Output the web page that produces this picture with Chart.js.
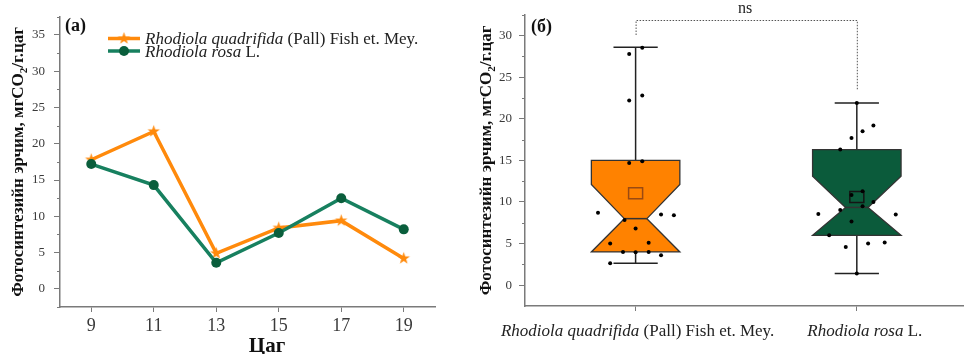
<!DOCTYPE html>
<html><head><meta charset="utf-8">
<script src="https://cdn.jsdelivr.net/npm/chart.js@4/dist/chart.umd.min.js"></script>
<style>
html,body{margin:0;padding:0;background:#fff;width:967px;height:354px;overflow:hidden;}
#wa{position:absolute;left:0;top:0;width:480px;height:354px;}
#wb{position:absolute;left:460px;top:0;width:507px;height:354px;}
canvas{display:block;}
</style></head><body>
<div id="wa"><canvas id="ca" width="480" height="354"></canvas></div>
<div id="wb"><canvas id="cb" width="507" height="354"></canvas></div>
<script>
// ---------- DATA ----------
// Panel (a): hourly photosynthesis rate
const hours = [9, 11, 13, 15, 17, 19];
const quadrifida = [17.8, 21.7, 4.9, 8.4, 9.4, 4.2];
const rosa = [17.2, 14.3, 3.6, 7.7, 12.5, 8.2];
const yTicksA = [0, 5, 10, 15, 20, 25, 30, 35];
const yMinorA = [-2.5, 2.5, 7.5, 12.5, 17.5, 22.5, 27.5, 32.5, 37.5];

// Panel (б): notched box plots
const boxCategories = [1, 2];
const boxLabels = [
  [{t: 'Rhodiola quadrifida', i: true}, {t: ' (Pall) Fish et. Mey.', i: false}],
  [{t: 'Rhodiola rosa', i: true}, {t: ' L.', i: false}]
];
const boxQ1 = [4.0, 6.0];
const boxMedian = [8.0, 9.35];
const boxQ3 = [15.0, 16.3];
const boxNotchHigh = [12.1, 13.1];
const boxWhiskerLow = [2.65, 1.4];
const boxWhiskerHigh = [28.6, 21.9];
const boxMean = [11.05, 10.6];
const yTicksB = [0, 5, 10, 15, 20, 25, 30];
const yMinorB = [2.5, 7.5, 12.5, 17.5, 22.5, 27.5, 32.5];

// raw replicate values with jittered category positions
const quadrifidaRawX = [1.03, 0.971, 1.03, 0.971, 0.971, 1.03, 0.83, 1.115, 1.173, 0.95, 1.0, 0.885, 1.059, 0.943, 1.0, 1.059, 1.115, 0.885];
const quadrifidaRawY = [28.55, 27.8, 22.8, 22.2, 14.7, 14.9, 8.7, 8.5, 8.4, 7.85, 6.8, 5.0, 5.1, 4.0, 3.95, 4.0, 3.6, 2.65];
const rosaRawX = [2.0, 2.075, 2.026, 1.976, 1.925, 2.026, 1.976, 2.075, 1.925, 2.026, 1.826, 2.176, 1.976, 1.875, 1.95, 2.051, 2.126, 2.0];
const rosaRawY = [21.9, 19.2, 18.5, 17.7, 16.3, 11.3, 10.85, 10.0, 9.05, 9.5, 8.57, 8.5, 7.66, 6.0, 4.6, 5.0, 5.13, 1.4];

// ---------- STYLE ----------
const SERIF = '"Liberation Serif", "Times New Roman", serif';
const ORANGE = '#FF8A0C';
const BOX_ORANGE = '#FF8200';
const GREEN_LINE = '#17805F';
const GREEN_DARK = '#0A5E3C';
const BOX_GREEN = '#0B5B3B';
const AXIS = '#7a7a7a';
const TXT = '#3a3a3a';

function makeStar(color, outer, inner) {
  const s = Math.ceil(outer * 2 + 2);
  const c = document.createElement('canvas');
  c.width = s; c.height = s;
  const g = c.getContext('2d');
  g.translate(s / 2, s / 2);
  g.beginPath();
  for (let k = 0; k < 10; k++) {
    const r = k % 2 ? inner : outer;
    const a = -Math.PI / 2 + k * Math.PI / 5;
    g.lineTo(r * Math.cos(a), r * Math.sin(a));
  }
  g.closePath();
  g.fillStyle = color; g.fill();
  return c;
}
const starImg = makeStar(ORANGE, 6.5, 2.6);

function drawRich(ctx, parts, x, y, size, align) {
  let total = 0;
  const fonts = parts.map(p => (p.i ? 'italic ' : '') + size + 'px ' + SERIF);
  parts.forEach((p, k) => { ctx.font = fonts[k]; total += ctx.measureText(p.t).width; });
  let cx = align === 'center' ? x - total / 2 : x;
  ctx.textAlign = 'left';
  ctx.textBaseline = 'alphabetic';
  parts.forEach((p, k) => { ctx.font = fonts[k]; ctx.fillText(p.t, cx, y); cx += ctx.measureText(p.t).width; });
}

function drawYTitle(ctx, cx, cy, size) {
  const a = 'Фотосинтезийн эрчим, мгCO', b = '2', c = '/г.цаг';
  const fBig = 'bold ' + size + 'px ' + SERIF, fSmall = 'bold ' + Math.round(size * 0.65) + 'px ' + SERIF;
  ctx.save();
  ctx.translate(cx, cy);
  ctx.rotate(-Math.PI / 2);
  ctx.fillStyle = '#111';
  ctx.textAlign = 'left';
  ctx.textBaseline = 'alphabetic';
  ctx.font = fBig; const w1 = ctx.measureText(a).width, w3 = ctx.measureText(c).width;
  ctx.font = fSmall; const w2 = ctx.measureText(b).width;
  let u = -(w1 + w2 + w3) / 2;
  const base = size * 0.35;
  ctx.font = fBig; ctx.fillText(a, u, base); u += w1;
  ctx.font = fSmall; ctx.fillText(b, u, base + size * 0.22); u += w2;
  ctx.font = fBig; ctx.fillText(c, u, base);
  ctx.restore();
}

function minorTicks(ctx, chart, values, len) {
  const ys = chart.scales.y, left = chart.chartArea.left;
  ctx.save();
  ctx.strokeStyle = AXIS; ctx.lineWidth = 1;
  values.forEach(v => {
    const py = Math.round(ys.getPixelForValue(v)) + 0.5;
    ctx.beginPath(); ctx.moveTo(left - len, py); ctx.lineTo(left, py); ctx.stroke();
  });
  ctx.restore();
}

// ---------- PANEL (a) ----------
const panelA = {
  id: 'panelA',
  afterDraw(chart) {
    const ctx = chart.ctx;
    minorTicks(ctx, chart, yMinorA, 3);
    ctx.save();
    ctx.fillStyle = '#111';
    ctx.font = 'bold 18px ' + SERIF;
    ctx.textAlign = 'left'; ctx.textBaseline = 'alphabetic';
    ctx.fillText('(a)', 65, 31);
    ctx.font = 'bold 21px ' + SERIF;
    ctx.textAlign = 'center';
    ctx.fillText('Цаг', 267, 352);
    // legend
    ctx.lineWidth = 3.5;
    ctx.strokeStyle = ORANGE;
    ctx.beginPath(); ctx.moveTo(108, 38.5); ctx.lineTo(140, 38.5); ctx.stroke();
    ctx.drawImage(starImg, 124 - starImg.width / 2, 38.5 - starImg.height / 2);
    ctx.strokeStyle = GREEN_LINE;
    ctx.beginPath(); ctx.moveTo(108, 51); ctx.lineTo(140, 51); ctx.stroke();
    ctx.fillStyle = GREEN_DARK;
    ctx.beginPath(); ctx.arc(124, 51, 5, 0, Math.PI * 2); ctx.fill();
    ctx.fillStyle = '#222';
    drawRich(ctx, [{t: 'Rhodiola quadrifida', i: true}, {t: ' (Pall) Fish et. Mey.', i: false}], 145, 44, 17, 'left');
    drawRich(ctx, [{t: 'Rhodiola rosa', i: true}, {t: ' L.', i: false}], 145, 57, 17, 'left');
    ctx.restore();
    drawYTitle(ctx, 17, (chart.chartArea.top + chart.chartArea.bottom) / 2, 17);
  }
};

new Chart(document.getElementById('ca'), {
  type: 'line',
  data: {
    datasets: [
      {
        label: 'Rhodiola rosa L.',
        data: hours.map((h, k) => ({x: h, y: rosa[k]})),
        borderColor: GREEN_LINE, borderWidth: 3.5,
        pointStyle: 'circle', pointRadius: 5,
        pointBackgroundColor: GREEN_DARK, pointBorderColor: GREEN_DARK, pointBorderWidth: 0,
        order: 0
      },
      {
        label: 'Rhodiola quadrifida (Pall) Fish et. Mey.',
        data: hours.map((h, k) => ({x: h, y: quadrifida[k]})),
        borderColor: ORANGE, borderWidth: 3.5,
        pointStyle: starImg, pointRadius: 7,
        order: 1
      }
    ]
  },
  options: {
    responsive: false, animation: false,
    layout: {padding: {left: 0, top: 11, right: 45, bottom: 0}},
    plugins: {legend: {display: false}, tooltip: {enabled: false}},
    scales: {
      x: {
        type: 'linear', min: 8, max: 20,
        afterBuildTicks: s => { s.ticks = hours.map(v => ({value: v})); },
        afterFit: s => { s.height = 47; },
        grid: {display: true, drawOnChartArea: false, drawTicks: true, tickLength: 5, color: AXIS, lineWidth: 1},
        border: {display: true, color: AXIS, width: 1.5},
        ticks: {font: {family: SERIF, size: 18}, color: TXT, padding: 3, maxRotation: 0, autoSkip: false}
      },
      y: {
        min: -2.5, max: 37.5,
        afterBuildTicks: s => { s.ticks = yTicksA.map(v => ({value: v})); },
        afterFit: s => { s.width = 60; },
        grid: {display: true, drawOnChartArea: false, drawTicks: true, tickLength: 6, color: AXIS, lineWidth: 1},
        border: {display: true, color: AXIS, width: 1.5},
        ticks: {font: {family: SERIF, size: 13}, color: TXT, padding: 9, autoSkip: false}
      }
    }
  },
  plugins: [panelA]
});

// ---------- PANEL (б) ----------
const boxColors = [BOX_ORANGE, BOX_GREEN];
const meanColors = ['#9a4a12', '#151515'];
const BOX_HALF = 0.2, NOTCH_HALF = 0.051, CAP_HALF = 0.1;

const panelB = {
  id: 'panelB',
  beforeDatasetsDraw(chart) {
    const ctx = chart.ctx, xs = chart.scales.x, ys = chart.scales.y;
    ctx.save();
    boxCategories.forEach((c, k) => {
      const X = v => xs.getPixelForValue(v), Y = v => ys.getPixelForValue(v);
      ctx.strokeStyle = '#222'; ctx.lineWidth = 1.5;
      ctx.beginPath();
      ctx.moveTo(X(c), Y(boxQ3[k])); ctx.lineTo(X(c), Y(boxWhiskerHigh[k]));
      ctx.moveTo(X(c), Y(boxQ1[k])); ctx.lineTo(X(c), Y(boxWhiskerLow[k]));
      ctx.moveTo(X(c - CAP_HALF), Y(boxWhiskerHigh[k])); ctx.lineTo(X(c + CAP_HALF), Y(boxWhiskerHigh[k]));
      ctx.moveTo(X(c - CAP_HALF), Y(boxWhiskerLow[k])); ctx.lineTo(X(c + CAP_HALF), Y(boxWhiskerLow[k]));
      ctx.stroke();
      ctx.beginPath();
      ctx.moveTo(X(c - BOX_HALF), Y(boxQ3[k]));
      ctx.lineTo(X(c + BOX_HALF), Y(boxQ3[k]));
      ctx.lineTo(X(c + BOX_HALF), Y(boxNotchHigh[k]));
      ctx.lineTo(X(c + NOTCH_HALF), Y(boxMedian[k]));
      ctx.lineTo(X(c + BOX_HALF), Y(boxQ1[k]));
      ctx.lineTo(X(c - BOX_HALF), Y(boxQ1[k]));
      ctx.lineTo(X(c - NOTCH_HALF), Y(boxMedian[k]));
      ctx.lineTo(X(c - BOX_HALF), Y(boxNotchHigh[k]));
      ctx.closePath();
      ctx.fillStyle = boxColors[k]; ctx.fill();
      ctx.strokeStyle = '#333'; ctx.lineWidth = 1.3; ctx.stroke();
      ctx.beginPath();
      ctx.moveTo(X(c - NOTCH_HALF), Y(boxMedian[k])); ctx.lineTo(X(c + NOTCH_HALF), Y(boxMedian[k]));
      ctx.lineWidth = 1.5; ctx.stroke();
      const mx = X(c), my = Y(boxMean[k]);
      ctx.strokeStyle = meanColors[k]; ctx.lineWidth = 1.5;
      ctx.strokeRect(mx - 7, my - 5.5, 14, 11);
    });
    ctx.restore();
  },
  afterDraw(chart) {
    const ctx = chart.ctx, xs = chart.scales.x;
    minorTicks(ctx, chart, yMinorB, 3);
    ctx.save();
    ctx.fillStyle = '#111';
    ctx.font = 'bold 18px ' + SERIF;
    ctx.textAlign = 'left'; ctx.textBaseline = 'alphabetic';
    ctx.fillText('(б)', chart.chartArea.left + 6, 32);
    const x1 = xs.getPixelForValue(boxCategories[0]), x2 = xs.getPixelForValue(boxCategories[1]);
    ctx.strokeStyle = '#555'; ctx.lineWidth = 1; ctx.setLineDash([1.5, 1.5]);
    ctx.beginPath();
    ctx.moveTo(x1 + 0.5, 35); ctx.lineTo(x1 + 0.5, 20.5); ctx.lineTo(x2 + 0.5, 20.5); ctx.lineTo(x2 + 0.5, 90);
    ctx.stroke();
    ctx.setLineDash([]);
    ctx.fillStyle = '#222';
    ctx.font = '16px ' + SERIF; ctx.textAlign = 'center';
    ctx.fillText('ns', (x1 + x2) / 2 - 1, 13);
    ctx.fillStyle = '#222';
    boxCategories.forEach((c, k) => {
      drawRich(ctx, boxLabels[k], xs.getPixelForValue(c) + (k ? 8 : 2), 336, 17, 'center');
    });
    ctx.restore();
    drawYTitle(ctx, 25, (chart.chartArea.top + chart.chartArea.bottom) / 2, 17);
  }
};

new Chart(document.getElementById('cb'), {
  type: 'scatter',
  data: {
    datasets: [
      {data: quadrifidaRawX.map((x, k) => ({x: x, y: quadrifidaRawY[k]})), pointRadius: 2, pointBackgroundColor: '#000', pointBorderWidth: 0},
      {data: rosaRawX.map((x, k) => ({x: x, y: rosaRawY[k]})), pointRadius: 2, pointBackgroundColor: '#000', pointBorderWidth: 0}
    ]
  },
  options: {
    responsive: false, animation: false,
    layout: {padding: {left: 0, top: 11, right: 1, bottom: 0}},
    plugins: {legend: {display: false}, tooltip: {enabled: false}},
    scales: {
      x: {
        type: 'linear', min: 0.5, max: 2.48,
        afterBuildTicks: s => { s.ticks = boxCategories.map(v => ({value: v})); },
        afterFit: s => { s.height = 48; },
        grid: {display: true, drawOnChartArea: false, drawTicks: true, tickLength: 5, color: AXIS, lineWidth: 1},
        border: {display: true, color: AXIS, width: 1.5},
        ticks: {display: false}
      },
      y: {
        min: -2.5, max: 32.5,
        afterBuildTicks: s => { s.ticks = yTicksB.map(v => ({value: v})); },
        afterFit: s => { s.width = 65; },
        grid: {display: true, drawOnChartArea: false, drawTicks: true, tickLength: 6, color: AXIS, lineWidth: 1},
        border: {display: true, color: AXIS, width: 1.5},
        ticks: {font: {family: SERIF, size: 13}, color: TXT, padding: 7, autoSkip: false}
      }
    }
  },
  plugins: [panelB]
});
</script>
</body></html>
